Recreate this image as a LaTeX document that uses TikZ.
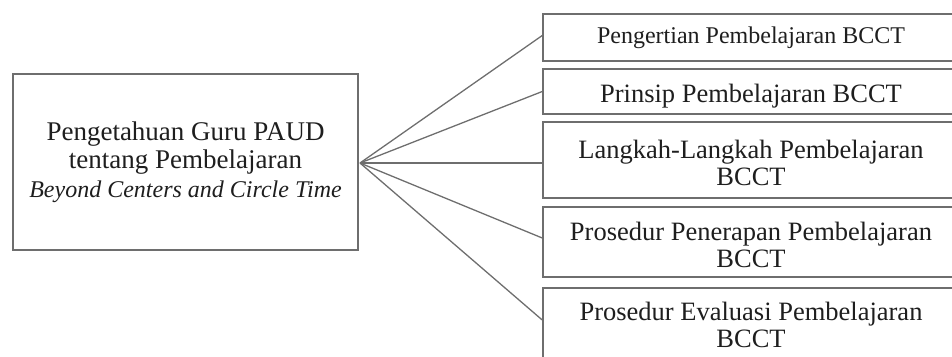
\documentclass[tikz,border=0pt]{standalone}
\usepackage{fontspec}
\setmainfont{Liberation Serif}
\definecolor{edge}{RGB}{110,110,110}
\definecolor{ink}{RGB}{30,30,30}
\newcommand{\lift}[1]{\rule{0pt}{#1}}
\begin{document}
\begin{tikzpicture}[x=1pt,y=-1pt,
  box/.style={draw=edge,line width=1.5pt,inner sep=0pt,align=center,text=ink},
  big/.style={font=\fontsize{26.5}{27}\selectfont},
  link/.style={draw=edge,line width=1.3pt}]
\useasboundingbox (0,0) rectangle (952,356);
\clip (0,0) rectangle (952,356);
\node[box,minimum width=345pt,minimum height=176pt,font=\fontsize{27}{28.5}\selectfont] (main) at (185.5,162)
  {Pengetahuan Guru PAUD\\
   tentang Pembelajaran\\
   {\fontsize{24}{27}\selectfont\itshape Beyond Centers and Circle Time}};
\coordinate (hub) at (360,163);
\node[box,minimum width=416pt,minimum height=47pt,font=\fontsize{24}{26}\selectfont] (b1) at (751,37.5)
  {\lift{18pt}Pengertian Pembelajaran BCCT};
\node[box,big,minimum width=416pt,minimum height=45pt] (b2) at (751,91.5)
  {\lift{27pt}Prinsip Pembelajaran BCCT};
\node[box,big,minimum width=416pt,minimum height=76pt] (b3) at (751,160)
  {\lift{24pt}Langkah-Langkah Pembelajaran\\BCCT};
\node[box,big,minimum width=416pt,minimum height=70pt] (b4) at (751,242)
  {\lift{24pt}Prosedur Penerapan Pembelajaran\\BCCT};
\node[box,big,minimum width=416pt,minimum height=70pt] (b5) at (751,323)
  {\lift{23pt}Prosedur Evaluasi Pembelajaran\\BCCT};
\draw[link] (hub) -- ([yshift=2pt]b1.west);
\draw[link] (hub) -- (b2.west);
\draw[link] (hub) -- (hub -| b3.west);
\draw[link] (hub) -- ([yshift=4pt]b4.west);
\draw[link] (hub) -- ([yshift=3pt]b5.west);
\end{tikzpicture}
\end{document}
